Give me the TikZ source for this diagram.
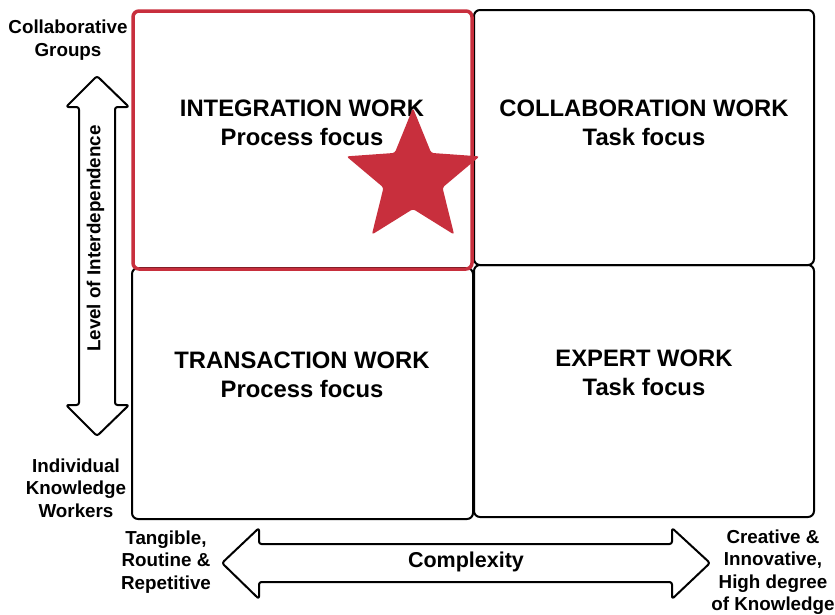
\documentclass[tikz,border=0pt]{standalone}
\usepackage{fontspec}
\setmainfont{Liberation Sans}
\begin{document}
\begin{tikzpicture}[x=1pt,y=-1pt,
  box/.style={draw=black,line width=2pt,rounded corners=6pt},
  redbox/.style={draw=starred,line width=3.5pt,rounded corners=6pt},
  bigtxt/.style={font=\fontsize{23.8}{29}\selectfont\bfseries,align=center,inner sep=0pt},
  smalltxt/.style={font=\fontsize{18.8}{22.5}\selectfont\bfseries,align=center,inner sep=0pt},
  arrowshape/.style={draw=black,fill=white,line width=2pt,rounded corners=2.5pt,line join=round}]
\definecolor{starred}{RGB}{200,47,61}
\useasboundingbox (0,0) rectangle (835,614);
\fill[white] (0,0) rectangle (835,614);
% quadrants
\draw[box] (474,10) rectangle (814,265);
\draw[box] (474,265) rectangle (814,517);
\draw[box] (132,268) rectangle (473,519);
\draw[redbox] (133,11) rectangle (472,269);
% quadrant texts
\node[bigtxt] (integ) at (302,122.5) {INTEGRATION WORK\\Process focus};
\node[bigtxt] (collab) at (644,122.5) {COLLABORATION WORK\\Task focus};
\node[bigtxt] (trans) at (302,374.5) {TRANSACTION WORK\\Process focus};
\node[bigtxt] (expert) at (644,372.5) {EXPERT WORK\\Task focus};
% star
\begin{scope}[shift={(413,178)},yscale=-1]
\fill[starred,rounded corners=2.5pt] (90:70) -- (126:31) -- (162:70)
  -- (198:31) -- (234:70) -- (270:31) -- (306:70) -- (342:31) -- (18:70)
  -- (54:31) -- cycle;
\end{scope}
% vertical arrow
\draw[arrowshape] (97,76) -- (129,107) -- (115,107) -- (115,405) -- (129,405)
  -- (97,436) -- (66,405) -- (79,405) -- (79,107) -- (66,107) -- cycle;
\node[smalltxt,rotate=90] (interdep) at (95.5,238.5) {Level of Interdependence};
% horizontal arrow
\draw[arrowshape] (222,563) -- (259,528) -- (259,544) -- (672,544) -- (672,528)
  -- (710,563) -- (672,599) -- (672,582) -- (259,582) -- (259,599) -- cycle;
\node[font=\fontsize{21.5}{25}\selectfont\bfseries,inner sep=0pt] (complex) at (466,562) {Complexity};
% axis labels
\node[smalltxt] (collgroups) at (68,40) {Collaborative\\Groups};
\node[smalltxt] (indiv) at (76,488) {Individual\\Knowledge\\Workers};
\node[smalltxt] (tang) at (166,562) {Tangible,\\Routine \&\\Repetitive};
\node[smalltxt] (creative) at (773,572) {Creative \&\\Innovative,\\High degree\\of Knowledge};
\end{tikzpicture}
\end{document}
